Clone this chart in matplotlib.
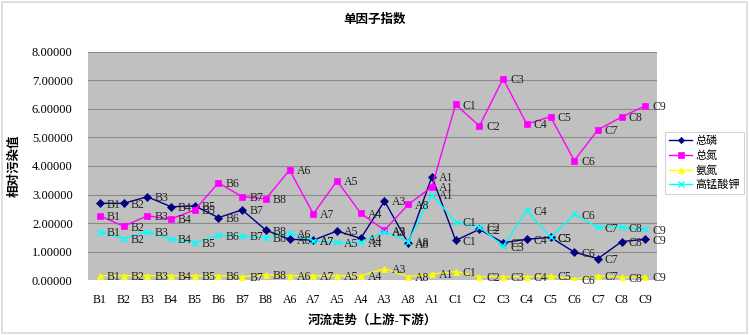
import matplotlib.pyplot as plt
from matplotlib.patches import Rectangle

plt.rcParams['font.family'] = ['Liberation Serif', 'Noto Sans CJK SC']

# Data
# ----------------------------------------------------------------------------

sites = ['B1', 'B2', 'B3', 'B4', 'B5', 'B6', 'B7', 'B8', 'A6', 'A7', 'A5', 'A4',
         'A3', 'A8', 'A1', 'C1', 'C2', 'C3', 'C4', 'C5', 'C6', 'C7', 'C8', 'C9']

total_p = [2.69, 2.69, 2.92, 2.57, 2.60, 2.19, 2.46, 1.75, 1.43, 1.40, 1.72, 1.46,
           2.77, 1.29, 3.63, 1.39, 1.78, 1.31, 1.43, 1.50, 0.98, 0.75, 1.35, 1.43]
total_n = [2.25, 1.89, 2.25, 2.14, 2.46, 3.41, 2.92, 2.85, 3.86, 2.32, 3.48, 2.34,
           1.75, 2.65, 3.27, 6.16, 5.40, 7.06, 5.47, 5.73, 4.19, 5.27, 5.72, 6.11]
ammonia = [0.15, 0.15, 0.15, 0.15, 0.15, 0.15, 0.12, 0.19, 0.15, 0.15, 0.15, 0.15,
           0.40, 0.12, 0.21, 0.30, 0.12, 0.12, 0.12, 0.15, 0.03, 0.15, 0.10, 0.12]
kmno4 = [1.70, 1.44, 1.70, 1.44, 1.31, 1.57, 1.55, 1.48, 1.64, 1.38, 1.32, 1.32,
         1.70, 1.35, 3.00, 2.04, 1.87, 1.19, 2.44, 1.50, 2.30, 1.85, 1.85, 1.78]

series = [
    ('总磷', total_p, '#000080', 'D', 4),
    ('总氮', total_n, '#ff00ff', 's', 5),
    ('氨氮', ammonia, '#ffff00', '^', 5),
    ('高锰酸钾', kmno4, '#00ffff', 'x', 5),
]

# Plot
# ----------------------------------------------------------------------------

fig = plt.figure(figsize=(7.49, 3.35), dpi=100)
fig.patches.append(Rectangle((0.003, 0.006), 0.994, 0.988, transform=fig.transFigure,
                             fill=False, edgecolor='#d9d9d9', lw=1.2))

ax = fig.add_axes([0.1175, 0.164, 0.760, 0.681])
ax.set_facecolor('#c0c0c0')

x = list(range(len(sites)))
for name, vals, color, marker, ms in series:
    ax.plot(x, vals, color=color, lw=1, marker=marker, markersize=ms,
            markeredgewidth=1 if marker == 'x' else 0.5, label=name, zorder=3)
    for xi, v, s in zip(x, vals, sites):
        ax.annotate(s, (xi, v), xytext=(5, -1), textcoords='offset points',
                    ha='left', va='center', fontsize=8.5, color='#222222', zorder=4)

ax.set_xlim(-0.5, len(sites) - 0.5)
ax.set_ylim(0, 8)
ax.set_yticks(range(9))
ax.set_yticklabels([f'{v:.5f}' for v in range(9)], fontsize=9)
ax.set_xticks(x)
ax.set_xticklabels(sites, fontsize=8.5)
ax.tick_params(axis='both', length=0)
ax.tick_params(axis='y', pad=11)
ax.tick_params(axis='x', pad=10)
ax.grid(axis='y', color='#8c8c8c', lw=0.8)
ax.set_axisbelow(True)
for sp in ax.spines.values():
    sp.set_visible(False)

ax.set_xlabel('河流走势（上游-下游）', fontsize=9, fontweight='bold', labelpad=6)
ax.set_ylabel('相对污染值', fontsize=9, fontweight='bold', labelpad=8)
fig.suptitle('单因子指数', fontsize=9, fontweight='bold', y=0.96)

leg = ax.legend(loc='upper left', bbox_to_anchor=(1.014, 0.649), borderaxespad=0,
                fontsize=8, frameon=True, fancybox=False, edgecolor='#c8c8c8',
                borderpad=0.35, labelspacing=0.35, handlelength=2.1,
                handletextpad=0.3, markerscale=0.8)
leg.get_frame().set_linewidth(0.8)

fig.savefig('out.png', dpi=100)
